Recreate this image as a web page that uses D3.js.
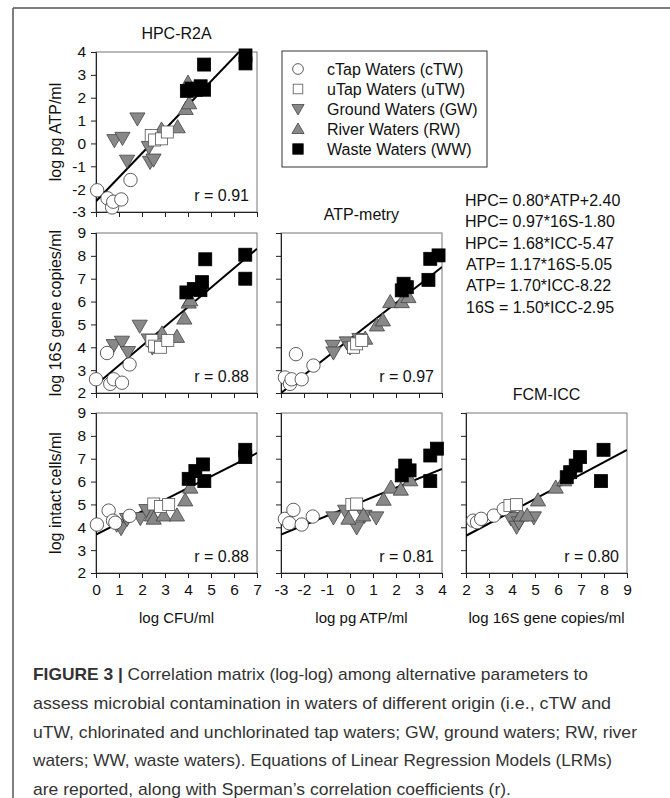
<!DOCTYPE html>
<html>
<head>
<meta charset="utf-8">
<script src="https://cdn.jsdelivr.net/npm/d3@7.9.0/dist/d3.min.js"></script>
<style>
  html, body { margin: 0; padding: 0; background: #fff; }
  svg { display: block; font-family: "Liberation Sans", Arial, sans-serif; }
</style>
</head>
<body>
<svg id="chart" width="670" height="798"></svg>
<script>
// legend / groups
const groupKeys = ['GW', 'RW', 'cTW', 'uTW', 'WW'];
const legendKeys = ['cTW', 'uTW', 'GW', 'RW', 'WW'];
const legendLabels = ['cTap Waters (cTW)', 'uTap Waters (uTW)', 'Ground Waters (GW)', 'River Waters (RW)', 'Waste Waters (WW)'];

// axis domains
const cfuTicks = [0, 1, 2, 3, 4, 5, 6, 7];
const atpTicks = [-3, -2, -1, 0, 1, 2, 3, 4];
const s16Ticks = [2, 3, 4, 5, 6, 7, 8, 9];
const iccTicks = [2, 3, 4, 5, 6, 7, 8, 9];

// row 1, col 1: ATP vs CFU
const atpVsCfu = {
  cTW: [[0.05, -2.05], [0.5, -2.4], [0.7, -2.8], [0.75, -2.55], [1.1, -2.45], [1.5, -1.6]],
  uTW: [[2.4, 0.35], [2.55, 0.15], [2.85, 0.2], [3.1, 0.5]],
  GW: [[0.8, 0.15], [1.15, 0.25], [1.8, 1.1], [1.35, -0.75], [2.3, -0.15], [2.35, -0.8], [2.5, -0.7]],
  RW: [[2.85, 0.6], [3.55, 0.7], [3.9, 1.5], [4.05, 1.75], [4.0, 2.65], [4.1, 2.3]],
  WW: [[3.95, 2.3], [4.15, 2.4], [4.35, 2.35], [4.55, 2.5], [4.7, 2.35], [4.7, 3.45], [6.5, 3.85], [6.5, 3.5]]
};
// row 2, col 1: 16S vs CFU
const s16VsCfu = {
  cTW: [[0.0, 2.6], [0.48, 3.75], [0.62, 2.4], [0.77, 2.6], [1.13, 2.45], [1.46, 3.25]],
  uTW: [[2.43, 4.3], [2.55, 4.05], [2.8, 4.0], [3.12, 4.3]],
  GW: [[0.77, 4.1], [1.13, 4.25], [1.39, 3.8], [1.9, 4.95], [2.29, 4.35], [2.45, 4.0]],
  RW: [[2.87, 4.6], [3.52, 4.45], [3.84, 5.25], [4.03, 5.95], [4.1, 6.05]],
  WW: [[3.93, 6.4], [4.25, 6.55], [4.54, 6.5], [4.61, 6.85], [4.75, 7.85], [6.49, 8.05], [6.49, 7.0]]
};
// row 2, col 2: 16S vs ATP
const s16VsAtp = {
  cTW: [[-2.83, 2.68], [-2.61, 2.4], [-2.54, 2.6], [-2.35, 3.7], [-2.1, 2.6], [-1.59, 3.2]],
  uTW: [[0.15, 4.0], [0.29, 4.15], [0.51, 4.3]],
  GW: [[-0.75, 4.07], [-0.72, 3.78], [-0.14, 4.22], [0.0, 4.0], [0.41, 4.37]],
  RW: [[0.66, 4.37], [1.17, 4.95], [1.43, 5.17], [1.75, 5.97], [2.25, 5.97], [2.54, 6.19]],
  WW: [[2.25, 6.49], [2.33, 6.78], [2.47, 6.63], [3.41, 6.95], [3.49, 7.87], [3.85, 8.02]]
};
// row 3, col 1: ICC vs CFU
const iccVsCfu = {
  cTW: [[0.04, 4.12], [0.55, 4.73], [0.74, 4.29], [0.84, 4.2], [1.46, 4.5]],
  uTW: [[2.51, 5.02], [2.8, 4.91], [3.16, 5.0]],
  GW: [[0.9, 4.12], [1.09, 3.97], [1.35, 4.37], [1.93, 4.41], [2.19, 4.76]],
  RW: [[2.43, 4.51], [2.51, 4.37], [2.94, 4.51], [3.52, 4.51], [3.88, 5.17], [4.1, 5.73]],
  WW: [[4.03, 6.12], [4.32, 6.46], [4.65, 6.75], [4.71, 6.02], [6.49, 7.39], [6.49, 7.07]]
};
// row 3, col 2: ICC vs ATP
const iccVsAtp = {
  cTW: [[-2.83, 4.37], [-2.64, 4.18], [-2.46, 4.76], [-2.1, 4.12], [-1.62, 4.47]],
  uTW: [[0.08, 5.0], [0.29, 5.02]],
  GW: [[-0.72, 4.44], [-0.21, 4.73], [0.29, 4.0], [0.63, 4.51], [1.14, 4.44]],
  RW: [[-0.07, 4.37], [0.58, 4.51], [1.46, 5.2], [1.78, 5.73], [2.21, 5.64], [2.62, 6.05]],
  WW: [[2.25, 6.27], [2.4, 6.7], [2.59, 6.49], [3.49, 7.14], [3.78, 7.44], [3.49, 6.02]]
};
// row 3, col 3: ICC vs 16S
const iccVs16s = {
  cTW: [[2.31, 4.29], [2.48, 4.22], [2.66, 4.37], [3.21, 4.51], [3.64, 4.8]],
  uTW: [[3.91, 4.95], [4.2, 4.99]],
  GW: [[3.94, 4.41], [4.2, 4.03], [4.3, 4.22], [4.95, 4.44]],
  RW: [[4.4, 4.51], [4.66, 4.51], [5.13, 5.17], [5.9, 5.73], [6.27, 6.05]],
  WW: [[6.38, 6.19], [6.53, 6.41], [6.77, 6.7], [6.96, 7.07], [7.98, 7.39], [7.87, 6.02]]
};

// regression lines [intercept, slope] and Spearman r
const fitLines = [[-2.53, 1.05], [2.36, 0.85], [4.36, 0.787], [3.68, 0.51], [4.91, 0.41], [2.556, 0.537]];
const rLabels = ['r = 0.91', 'r = 0.88', 'r = 0.97', 'r = 0.88', 'r = 0.81', 'r = 0.80'];

const equations = ['HPC= 0.80*ATP+2.40', 'HPC= 0.97*16S-1.80', 'HPC= 1.68*ICC-5.47',
                   'ATP= 1.17*16S-5.05', 'ATP= 1.70*ICC-8.22', '16S = 1.50*ICC-2.95'];
const yTitles = ['log pg ATP/ml', 'log 16S gene copies/ml', 'log intact cells/ml'];
const xTitles = ['log CFU/ml', 'log pg ATP/ml', 'log 16S gene copies/ml'];
const panelTitles = ['HPC-R2A', 'ATP-metry', 'FCM-ICC'];

const caption = [
  ['FIGURE 3 |', ' Correlation matrix (log-log) among alternative parameters to'],
  ['', 'assess microbial contamination in waters of different origin (i.e., cTW and'],
  ['', 'uTW, chlorinated and unchlorinated tap waters; GW, ground waters; RW, river'],
  ['', 'waters; WW, waste waters). Equations of Linear Regression Models (LRMs)'],
  ['', 'are reported, along with Sperman\u2019s correlation coefficients (r).']
];

// layout
const colX = [96, 281, 466];
const rowY = [52, 233, 413];
const pw = 161, ph = 160;
const fs = 16;

const svg = d3.select('#chart');

// outer frame
svg.append('line').attr('x1', 13).attr('x2', 670).attr('y1', 8).attr('y2', 8)
  .attr('stroke', '#555').attr('stroke-width', 1.5);
svg.append('line').attr('x1', 13).attr('x2', 13).attr('y1', 8).attr('y2', 798)
  .attr('stroke', '#555').attr('stroke-width', 1.5);

function drawMarker(g, key, x, y, small) {
  const k = small ? 0.8 : 1;
  if (key === 'cTW') {
    g.append('circle').attr('cx', x).attr('cy', y).attr('r', 6.7 * k)
      .attr('fill', '#fff').attr('stroke', '#333').attr('stroke-width', 0.8);
  } else if (key === 'uTW' || key === 'WW') {
    const s = (key === 'WW' ? 13 : 12) * k;
    g.append('rect').attr('x', x - s / 2).attr('y', y - s / 2).attr('width', s).attr('height', s)
      .attr('fill', key === 'WW' ? '#000' : '#fff').attr('stroke', key === 'WW' ? '#000' : '#555')
      .attr('stroke-width', 0.8);
  } else {
    const rot = key === 'GW' ? 180 : 0;
    g.append('path').attr('d', d3.symbol().type(d3.symbolTriangle).size(100 * k * k)())
      .attr('transform', `translate(${x},${y + (key === 'GW' ? -1 : 1)}) rotate(${rot})`)
      .attr('fill', '#888').attr('stroke', '#444').attr('stroke-width', 0.8);
  }
}

const panels = [
  { data: atpVsCfu, row: 0, col: 0, xt: cfuTicks, yt: atpTicks },
  { data: s16VsCfu, row: 1, col: 0, xt: cfuTicks, yt: s16Ticks },
  { data: s16VsAtp, row: 1, col: 1, xt: atpTicks, yt: s16Ticks },
  { data: iccVsCfu, row: 2, col: 0, xt: cfuTicks, yt: iccTicks },
  { data: iccVsAtp, row: 2, col: 1, xt: atpTicks, yt: iccTicks },
  { data: iccVs16s, row: 2, col: 2, xt: s16Ticks, yt: iccTicks }
];

// plain hyphen minus, as in the original figure
const fmt = d => String(d);

panels.forEach((p, i) => {
  const x0 = colX[p.col], y0 = rowY[p.row];
  const x = d3.scaleLinear().domain(d3.extent(p.xt)).range([x0, x0 + pw]);
  const y = d3.scaleLinear().domain(d3.extent(p.yt)).range([y0 + ph, y0]);
  const g = svg.append('g');

  // frame
  g.append('rect').attr('x', x0).attr('y', y0).attr('width', pw).attr('height', ph)
    .attr('fill', 'none').attr('stroke', '#777').attr('stroke-width', 1);

  const yAxis = d3.axisLeft(y).tickValues(p.yt).tickSize(5).tickPadding(5)
    .tickFormat(p.col === 0 ? fmt : '');
  const xAxis = d3.axisBottom(x).tickValues(p.xt).tickSize(5).tickPadding(6)
    .tickFormat(p.row === 2 ? fmt : '');

  const ya = g.append('g').attr('transform', `translate(${x0},0)`).call(yAxis);
  const xa = g.append('g').attr('transform', `translate(0,${y0 + ph})`).call(xAxis);
  [ya, xa].forEach(a => {
    a.select('.domain').attr('stroke', '#222');
    a.selectAll('.tick line').attr('stroke', '#222');
    a.selectAll('text').attr('fill', '#111').attr('font-size', 15.5)
      .attr('font-family', '"Liberation Sans", Arial, sans-serif');
  });

  // clip
  const clipId = 'clip' + i;
  g.append('clipPath').attr('id', clipId).append('rect')
    .attr('x', x0).attr('y', y0).attr('width', pw).attr('height', ph);

  // regression line
  const [b0, b1] = fitLines[i];
  const xd = x.domain();
  g.append('line').attr('clip-path', `url(#${clipId})`)
    .attr('x1', x(xd[0])).attr('y1', y(b0 + b1 * xd[0]))
    .attr('x2', x(xd[1])).attr('y2', y(b0 + b1 * xd[1]))
    .attr('stroke', '#000').attr('stroke-width', 2);

  // points
  groupKeys.forEach(key => {
    p.data[key].forEach(d => drawMarker(g, key, x(d[0]), y(d[1]), false));
  });

  g.append('text').attr('x', x0 + pw - 8).attr('y', y0 + ph - 11)
    .attr('text-anchor', 'end').attr('font-size', fs).attr('fill', '#111')
    .text(rLabels[i]);
});

// panel titles
panelTitles.forEach((t, i) => {
  svg.append('text').attr('x', colX[i] + pw / 2).attr('y', rowY[i] - 13)
    .attr('text-anchor', 'middle').attr('font-size', fs).attr('fill', '#111').text(t);
});

// y titles
yTitles.forEach((t, i) => {
  svg.append('text')
    .attr('transform', `translate(61,${rowY[i] + ph / 2}) rotate(-90)`)
    .attr('text-anchor', 'middle').attr('font-size', fs).attr('fill', '#111').text(t);
});
// x titles
xTitles.forEach((t, i) => {
  svg.append('text').attr('x', colX[i] + pw / 2).attr('y', 623)
    .attr('text-anchor', 'middle').attr('font-size', 15).attr('fill', '#111').text(t);
});

// legend
const lg = svg.append('g');
lg.append('rect').attr('x', 282).attr('y', 51).attr('width', 205).attr('height', 116)
  .attr('fill', '#fff').attr('stroke', '#333').attr('stroke-width', 1);
legendKeys.forEach((k, i) => {
  const cy = 69 + i * 20;
  drawMarker(lg, k, 298, cy, true);
  lg.append('text').attr('x', 327).attr('y', cy + 5.5).attr('font-size', fs)
    .attr('fill', '#111').text(legendLabels[i]);
});

// equations
equations.forEach((t, i) => {
  svg.append('text').attr('x', i < 3 ? 465 : 466).attr('y', 206 + i * 21.3)
    .attr('font-size', fs).attr('fill', '#111').text(t);
});

// caption: lines squeezed to the condensed widths of the original
const capWidths = [555, 578, 604, 579];
const capNodes = caption.map((c, i) => {
  const t = svg.append('text').attr('x', 33).attr('y', 680 + i * 28.8)
    .attr('font-size', 17).attr('fill', '#333');
  if (c[0]) t.append('tspan').attr('font-weight', 'bold').text(c[0]);
  t.append('tspan').text(c[1]);
  return t;
});
let ratio = 0;
capWidths.forEach((w, i) => { ratio += w / capNodes[i].node().getComputedTextLength(); });
ratio /= capWidths.length;
capNodes.forEach((t, i) => {
  const w = i < capWidths.length ? capWidths[i] : t.node().getComputedTextLength() * ratio;
  t.attr('textLength', w).attr('lengthAdjust', 'spacingAndGlyphs');
});
</script>
</body>
</html>
